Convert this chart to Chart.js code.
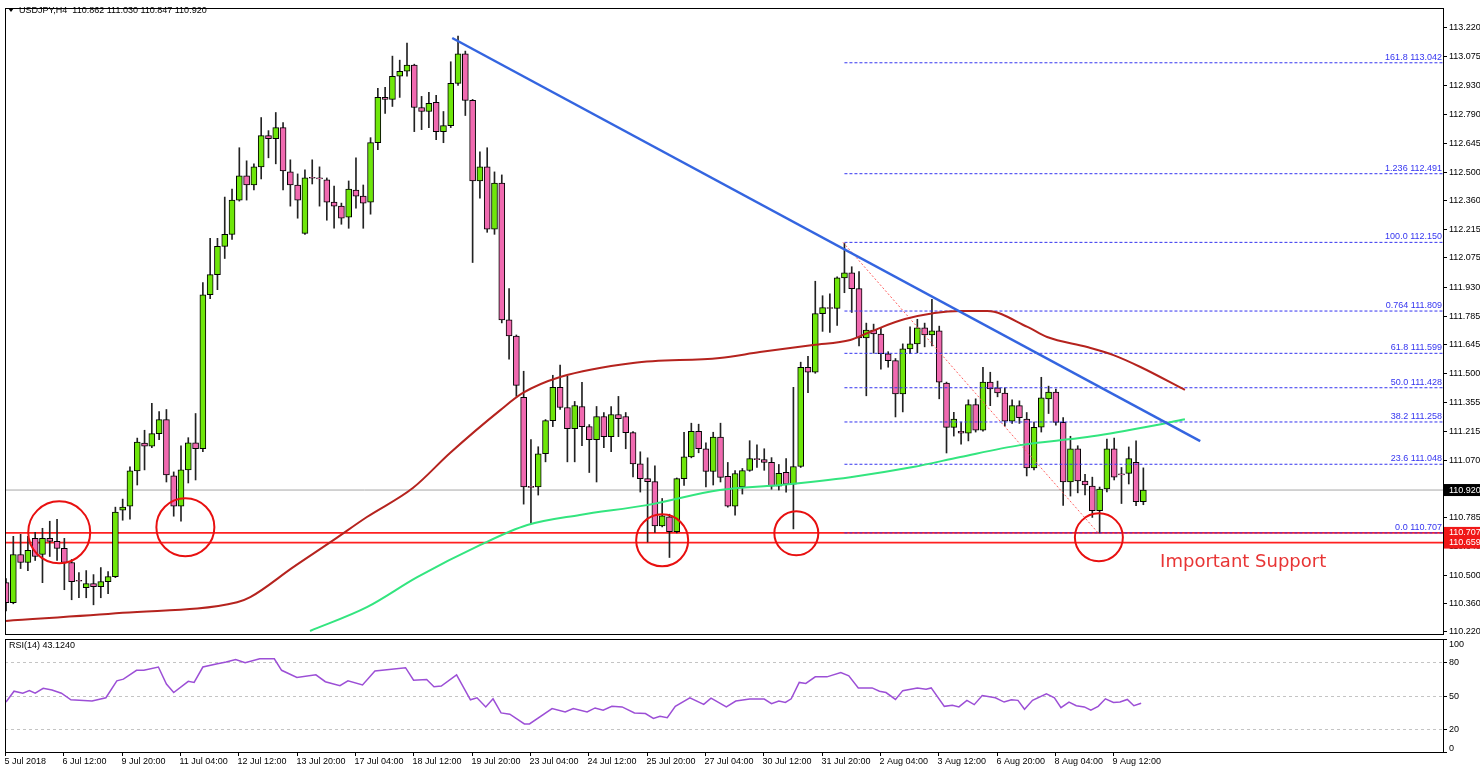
<!DOCTYPE html>
<html><head><meta charset="utf-8">
<script src="https://cdn.jsdelivr.net/npm/chart.js@4.4.1/dist/chart.umd.min.js"></script>
<style>
html,body{margin:0;padding:0;background:#fff;}
#wrap{position:relative;width:1480px;height:772px;overflow:hidden;background:#fff;}
#c1{position:absolute;left:0;top:0;}
#c2{position:absolute;left:0;top:636px;}
</style></head><body>
<div id="wrap"><canvas id="c1" width="1480" height="636"></canvas><canvas id="c2" width="1480" height="136"></canvas></div>
<script>
const symbolTitle = "USDJPY,H4  110.862 111.030 110.847 110.920";
const O = [110.46,110.36,110.60,110.56,110.68,110.60,110.68,110.665,110.63,110.56,
110.47,110.435,110.455,110.44,110.465,110.49,110.82,110.84,111.015,111.153,
111.138,111.20,111.27,110.99,110.84,111.02,111.155,111.125,111.89,111.99,
112.13,112.19,112.36,112.48,112.435,112.525,112.68,112.665,112.72,112.50,
112.435,112.195,112.473,112.47,112.46,112.35,112.33,112.275,112.41,112.38,
112.35,112.645,112.87,112.86,112.975,113.00,113.03,112.82,112.80,112.845,
112.70,112.73,112.94,113.087,112.855,112.455,112.525,112.215,112.445,111.765,
111.685,111.38,110.938,110.935,111.10,111.265,111.43,111.33,111.225,111.335,
111.235,111.17,111.285,111.185,111.295,111.285,111.205,111.05,110.977,110.962,
110.742,110.787,110.713,110.977,111.085,111.212,111.125,111.012,111.183,110.988,
110.84,110.935,111.017,111.076,111.071,111.057,110.939,111.008,110.949,111.037,
111.53,111.505,111.796,111.826,111.822,111.974,111.999,111.92,111.676,111.715,
111.695,111.597,111.563,111.397,111.621,111.646,111.725,111.69,111.711,111.451,
111.231,111.212,111.203,111.344,111.217,111.456,111.427,111.402,111.262,111.339,
111.272,111.03,111.232,111.373,111.407,111.256,110.96,111.125,110.965,110.94,
110.817,110.925,111.125,111.00,111.003,111.057,110.862];
const H = [110.48,110.69,110.70,110.69,110.71,110.73,110.765,110.775,110.68,110.575,
110.51,110.52,110.50,110.535,110.515,110.835,110.875,111.035,111.178,111.217,
111.35,111.31,111.32,111.01,111.14,111.18,111.30,111.95,112.17,112.17,
112.375,112.415,112.62,112.555,112.54,112.77,112.705,112.795,112.745,112.56,
112.49,112.51,112.56,112.525,112.47,112.43,112.345,112.455,112.57,112.435,
112.67,112.915,112.92,113.075,113.055,113.14,113.035,112.875,112.895,112.88,
112.80,113.047,113.175,113.10,112.86,112.60,112.62,112.50,112.485,111.92,
111.69,111.51,111.17,111.135,111.27,111.49,111.54,111.485,111.36,111.455,
111.245,111.335,111.305,111.335,111.385,111.305,111.21,111.11,111.08,111.04,
110.878,110.80,110.98,111.207,111.252,111.247,111.155,111.207,111.252,111.057,
111.017,111.027,111.165,111.145,111.125,111.081,111.047,111.076,111.43,111.555,
111.584,111.957,111.885,111.895,111.979,112.146,112.029,112.005,111.749,111.744,
111.725,111.607,111.573,111.646,111.73,111.768,111.749,111.867,111.734,111.456,
111.306,111.257,111.368,111.373,111.529,111.505,111.461,111.427,111.368,111.363,
111.305,111.257,111.48,111.436,111.422,111.28,111.187,111.14,110.998,110.984,
110.935,111.173,111.178,111.032,111.134,111.164,111.030];
const L = [110.32,110.355,110.53,110.52,110.57,110.46,110.59,110.57,110.425,110.375,
110.385,110.385,110.35,110.385,110.405,110.485,110.77,110.775,110.945,111.02,
111.13,111.17,110.96,110.79,110.765,110.955,110.97,111.11,111.87,111.915,
112.07,112.165,112.355,112.36,112.41,112.465,112.57,112.54,112.41,112.33,
112.27,112.19,112.44,112.33,112.26,112.22,112.24,112.22,112.32,112.22,
112.29,112.61,112.79,112.825,112.87,112.975,112.70,112.71,112.72,112.66,
112.645,112.72,112.93,112.78,112.05,112.37,112.20,112.19,111.75,111.57,
111.385,110.85,110.755,110.895,111.06,111.235,111.32,111.06,111.06,111.14,
111.007,110.96,111.13,111.11,111.185,111.125,110.985,110.91,110.662,110.71,
110.737,110.585,110.707,110.943,111.08,111.105,110.935,110.945,110.96,110.835,
110.795,110.90,111.013,111.032,111.018,110.924,110.92,110.91,110.727,111.032,
111.403,111.50,111.708,111.703,111.738,111.90,111.802,111.636,111.388,111.60,
111.52,111.53,111.283,111.308,111.597,111.602,111.631,111.636,111.373,111.104,
111.188,111.148,111.164,111.208,111.212,111.339,111.383,111.237,111.251,111.251,
110.99,111.02,111.208,111.30,111.242,110.844,110.89,110.906,110.896,110.784,
110.707,110.911,110.97,110.853,110.95,110.842,110.847];
const C = [110.36,110.60,110.56,110.62,110.59,110.68,110.665,110.63,110.56,110.465,
110.468,110.455,110.44,110.465,110.49,110.81,110.835,111.015,111.158,111.138,
111.20,111.27,110.995,110.84,111.02,111.155,111.125,111.89,111.99,112.13,
112.19,112.36,112.48,112.435,112.525,112.68,112.665,112.72,112.505,112.435,
112.36,112.47,112.469,112.465,112.35,112.33,112.27,112.415,112.38,112.345,
112.645,112.87,112.86,112.975,113.00,113.03,112.82,112.80,112.84,112.70,
112.73,112.94,113.087,112.855,112.455,112.525,112.215,112.445,111.765,111.685,
111.44,110.935,110.933,111.10,111.265,111.43,111.33,111.225,111.34,111.235,
111.17,111.285,111.185,111.295,111.275,111.205,111.05,110.977,110.962,110.742,
110.792,110.713,110.977,111.085,111.212,111.125,111.012,111.183,110.983,110.84,
111.002,111.017,111.076,111.071,111.057,110.939,111.003,110.949,111.037,111.53,
111.505,111.796,111.826,111.822,111.974,111.999,111.92,111.676,111.715,111.695,
111.597,111.563,111.397,111.621,111.646,111.725,111.69,111.711,111.456,111.231,
111.272,111.203,111.344,111.217,111.456,111.422,111.402,111.262,111.339,111.28,
111.03,111.232,111.378,111.407,111.256,110.96,111.125,110.965,110.945,110.817,
110.925,111.125,110.984,110.995,111.076,110.862,110.920];

const maRed = [[0,110.27],[16,110.31],[31.7,110.363],[33.5,110.388],[39.4,110.537],[44.9,110.671],[49.5,110.786],[55.8,110.93],[60.9,111.104],[67.8,111.317],[70.9,111.402],[76,111.481],[86,111.551],[97.9,111.576],[103.4,111.605],[110.7,111.64],[115.8,111.665],[118.5,111.705],[123.3,111.769],[130.9,111.809],[134.6,111.809],[140.1,111.73],[142.8,111.68],[148.3,111.63],[151.9,111.59],[155.6,111.531],[161.7,111.417]];
const maGreen = [[41.7,110.22],[49.5,110.338],[56.4,110.487],[65,110.646],[71.5,110.746],[78.7,110.796],[87.9,110.845],[97.9,110.92],[106.2,110.945],[115.8,110.984],[124.4,111.034],[130.9,111.084],[139.1,111.143],[148.3,111.183],[155.6,111.228],[161.7,111.272]];
const trendLine = [[61.2,113.165],[163.8,111.163]];
const fibNames = ["161.8","1.236","100.0","0.764","61.8","50.0","38.2","23.6","0.0"];
const fibValues = [113.042,112.491,112.150,111.809,111.599,111.428,111.258,111.048,110.707];
const fibStart = 115;
const fibTrend = [[114.8,112.150],[149.8,110.707]];
const supportLevels = [110.707,110.659];
const lastPrice = 110.920;
const circles = [[7.3,110.71,31],[24.6,110.735,29],[90,110.67,26],[108.4,110.705,22],[149.9,110.685,24]];
const priceTicks = [113.220,113.075,112.930,112.790,112.645,112.500,112.360,112.215,112.075,111.930,111.785,111.645,111.500,111.355,111.215,111.070,110.925,110.785,110.640,110.500,110.360,110.220];
const dateLabels = ["5 Jul 2018","6 Jul 12:00","9 Jul 20:00","11 Jul 04:00","12 Jul 12:00","13 Jul 20:00","17 Jul 04:00","18 Jul 12:00","19 Jul 20:00","23 Jul 04:00","24 Jul 12:00","25 Jul 20:00","27 Jul 04:00","30 Jul 12:00","31 Jul 20:00","2 Aug 04:00","3 Aug 12:00","6 Aug 20:00","8 Aug 04:00","9 Aug 12:00"];
const dateStep = 8;
const rsi = [[0,44.2],[1.1,53.8],[2.3,52],[3.2,54.3],[4,52],[5.1,56.4],[6.3,54.9],[7.6,52],[8.9,46.2],[11.8,45.1],[13.7,48],[15.2,63],[16.1,64.5],[17.9,72.3],[18.9,72.3],[20.9,75.2],[22,60.1],[23,52.6],[25,62.5],[25.8,61.6],[27,75.2],[29,78.1],[30.2,79.6],[31.5,81.9],[32.8,79],[34.8,82.5],[36.8,82.5],[37.8,72.3],[39.9,66],[42.5,68.3],[43.8,62.2],[45.8,58.7],[46.9,63],[48.9,59.3],[50.6,71.7],[51.9,72.6],[54.8,74.6],[55.9,63.6],[57.7,64.2],[58.7,57.8],[59.7,58.4],[61.8,68.3],[63.7,46.2],[64.6,48],[65.8,39.9],[66.8,47.1],[67.9,34.6],[69.1,33.5],[71.1,24.8],[71.8,24.8],[74.9,38.4],[76.7,35.5],[77.8,38.4],[79.7,35.5],[80.8,39],[81.9,37],[83.1,40.4],[84.5,39.9],[86.2,34.6],[87.7,34],[88.8,29.7],[89.7,31.7],[90.7,30.3],[91.8,40.4],[93.8,48],[95.7,42.2],[96.7,47.7],[98.8,39.9],[100.1,45.1],[102,46.8],[104,46.8],[105,42.8],[106,45.1],[106.9,43.9],[107.7,47.1],[108.8,61.6],[109.7,60.7],[111,66.5],[112.6,66.5],[114.5,70.3],[115.6,67.4],[116.9,56.7],[118.8,56.7],[119.8,53.8],[120.7,52.6],[122,46.5],[123,54.3],[125,56.7],[126.2,55.5],[126.9,56.7],[128.7,40.4],[129.8,41.3],[130.7,39.9],[131.8,45.7],[132.8,41.9],[133.9,50],[135.7,48],[136.9,44.2],[137.9,46.2],[138.8,45.7],[139.7,37.8],[140.8,45.7],[142.7,51.4],[143.8,48],[144.7,39.3],[145.8,44.2],[146.8,41],[147.9,39.9],[148.8,37],[149.8,40.4],[150.8,47.1],[151.9,43.9],[152.8,44.2],[153.8,46.5],[154.7,41],[155.7,43.1]];
const rsiLevels = [80,50,20];
const rsiTitle = "RSI(14) 43.1240";

const XMIN = -0.14, XMAX = 197.1;
const FONT = '9px "Liberation Sans", Arial, sans-serif';
const pts = a => a.map(p => ({x:p[0], y:p[1]}));
const hline = (v, x0, x1) => [{x:x0,y:v},{x:x1,y:v}];

const idx = O.map((_, i) => i);
const bodies = idx.map(i => {
  let lo = Math.min(O[i], C[i]), hi = Math.max(O[i], C[i]);
  if (hi - lo < 0.004) { const m = (hi + lo) / 2; lo = m - 0.002; hi = m + 0.002; }
  return {x:i, y:[lo, hi]};
});
const bodyColors = idx.map(i => C[i] >= O[i] ? '#6ee60a' : '#f06ab0');
const wicks = idx.map(i => ({x:i, y:[L[i], H[i]]}));

const lineDs = (data, color, w, extra) => Object.assign({type:'line', data, borderColor:color, borderWidth:w, pointRadius:0, fill:false, order:0}, extra || {});

const datasets = [
  lineDs(hline(lastPrice, XMIN, XMAX), '#a8a8a8', 1, {order:5}),
  lineDs(hline(supportLevels[0], XMIN, XMAX), '#ff2020', 1.6, {order:5}),
  lineDs(hline(supportLevels[1], XMIN, XMAX), '#ff2020', 1.6, {order:5}),
  {type:'bar', data:wicks, backgroundColor:'#222', barThickness:1, grouped:false, order:4},
  {type:'bar', data:bodies, backgroundColor:bodyColors, borderColor:'#000', borderWidth:1, borderSkipped:false, barThickness:6, grouped:false, order:3},
];
fibValues.forEach(v => datasets.push(lineDs(hline(v, fibStart, XMAX), '#3434f0', 1, {borderDash:[3,2], order:2})));
datasets.push(lineDs(pts(fibTrend), '#ff6060', 1, {borderDash:[2,2], order:2}));
datasets.push(lineDs(pts(maRed), '#b5231e', 2, {cubicInterpolationMode:'monotone', order:1}));
datasets.push(lineDs(pts(maGreen), '#33e57f', 2, {cubicInterpolationMode:'monotone', order:1}));
datasets.push(lineDs(pts(trendLine), '#3465e0', 2.5, {order:0}));

const mainDecor = {
  id:'mainDecor',
  afterDraw(chart){
    const {ctx, chartArea:a, scales:{x, y}} = chart;
    ctx.save();
    ctx.strokeStyle = '#e81010'; ctx.lineWidth = 2;
    circles.forEach(c => { ctx.beginPath(); ctx.arc(x.getPixelForValue(c[0]), y.getPixelForValue(c[1]), c[2], 0, Math.PI*2); ctx.stroke(); });
    ctx.fillStyle = '#e83535'; ctx.font = '18px "DejaVu Sans", sans-serif'; ctx.textBaseline = 'alphabetic'; ctx.textAlign = 'left';
    ctx.fillText('Important Support', x.getPixelForValue(158.3), y.getPixelForValue(110.54));
    ctx.font = FONT; ctx.fillStyle = '#3434f0'; ctx.textAlign = 'right'; ctx.textBaseline = 'bottom';
    fibValues.forEach((v, i) => ctx.fillText(fibNames[i] + ' ' + v.toFixed(3), a.right - 1, y.getPixelForValue(v) - 1));
    ctx.strokeStyle = '#000'; ctx.lineWidth = 1;
    ctx.strokeRect(a.left + 0.5, a.top + 0.5, a.right - a.left, a.bottom - a.top);
    ctx.fillStyle = '#000'; ctx.textAlign = 'left'; ctx.textBaseline = 'middle';
    priceTicks.forEach(v => {
      const py = Math.round(y.getPixelForValue(v)) + 0.5;
      ctx.beginPath(); ctx.moveTo(a.right, py); ctx.lineTo(a.right + 4, py); ctx.stroke();
      ctx.fillText(v.toFixed(3), a.right + 6, py);
    });
    const box = (v, bg) => {
      const py = y.getPixelForValue(v);
      ctx.fillStyle = bg; ctx.fillRect(a.right + 1, py - 6, 40, 12);
      ctx.fillStyle = '#fff'; ctx.fillText(v.toFixed(3), a.right + 6, py);
    };
    box(supportLevels[1], '#f01818'); box(supportLevels[0], '#f01818'); box(lastPrice, '#000');
    ctx.fillStyle = '#000'; ctx.beginPath(); ctx.moveTo(8, 8); ctx.lineTo(14, 8); ctx.lineTo(11, 12); ctx.closePath(); ctx.fill();
    ctx.font = FONT; ctx.textBaseline = 'middle'; ctx.fillText(symbolTitle, 19, 11);
    ctx.restore();
  }
};

new Chart(document.getElementById('c1'), {
  type:'bar',
  data:{datasets},
  options:{
    responsive:false, animation:false, devicePixelRatio:1,
    layout:{padding:{left:5, right:37, top:8, bottom:2}},
    plugins:{legend:{display:false}, tooltip:{enabled:false}},
    scales:{
      x:{type:'linear', min:XMIN, max:XMAX, offset:false, display:false},
      y:{type:'linear', min:110.205, max:113.314, display:false}
    }
  },
  plugins:[mainDecor]
});

const rsiDecor = {
  id:'rsiDecor',
  beforeDatasetsDraw(chart){
    const {ctx, chartArea:a, scales:{y}} = chart;
    ctx.save(); ctx.strokeStyle = '#c4c4c4'; ctx.lineWidth = 1; ctx.setLineDash([3,3]);
    rsiLevels.forEach(v => { const py = Math.round(y.getPixelForValue(v)) + 0.5; ctx.beginPath(); ctx.moveTo(a.left, py); ctx.lineTo(a.right, py); ctx.stroke(); });
    ctx.restore();
  },
  afterDraw(chart){
    const {ctx, chartArea:a, scales:{x, y}} = chart;
    ctx.save();
    ctx.strokeStyle = '#000'; ctx.lineWidth = 1;
    ctx.strokeRect(a.left + 0.5, a.top + 0.5, a.right - a.left, a.bottom - a.top);
    ctx.font = FONT; ctx.fillStyle = '#000'; ctx.textBaseline = 'middle'; ctx.textAlign = 'left';
    [[100, 5], [80, 0], [50, 0], [20, 0], [0, -4]].forEach(([v, off]) => {
      const py = Math.round(y.getPixelForValue(v)) + 0.5;
      ctx.beginPath(); ctx.moveTo(a.right, py); ctx.lineTo(a.right + 4, py); ctx.stroke();
      ctx.fillText(String(v), a.right + 6, py + off);
    });
    ctx.fillText(rsiTitle, 9, a.top + 7);
    ctx.textBaseline = 'top';
    dateLabels.forEach((t, i) => {
      const px = Math.round(x.getPixelForValue(i * dateStep)) - 0.5;
      ctx.beginPath(); ctx.moveTo(px, a.bottom); ctx.lineTo(px, a.bottom + 4); ctx.stroke();
      ctx.fillText(t, px - 1, a.bottom + 5);
    });
    ctx.restore();
  }
};

new Chart(document.getElementById('c2'), {
  type:'line',
  data:{datasets:[{data:pts(rsi), borderColor:'#9c4fd6', borderWidth:1.5, pointRadius:0, fill:false, tension:0}]},
  options:{
    responsive:false, animation:false, devicePixelRatio:1,
    layout:{padding:{left:5, right:37, top:3, bottom:20}},
    plugins:{legend:{display:false}, tooltip:{enabled:false}},
    scales:{
      x:{type:'linear', min:XMIN, max:XMAX, display:false},
      y:{type:'linear', min:0, max:100, display:false}
    }
  },
  plugins:[rsiDecor]
});
</script></body></html>
